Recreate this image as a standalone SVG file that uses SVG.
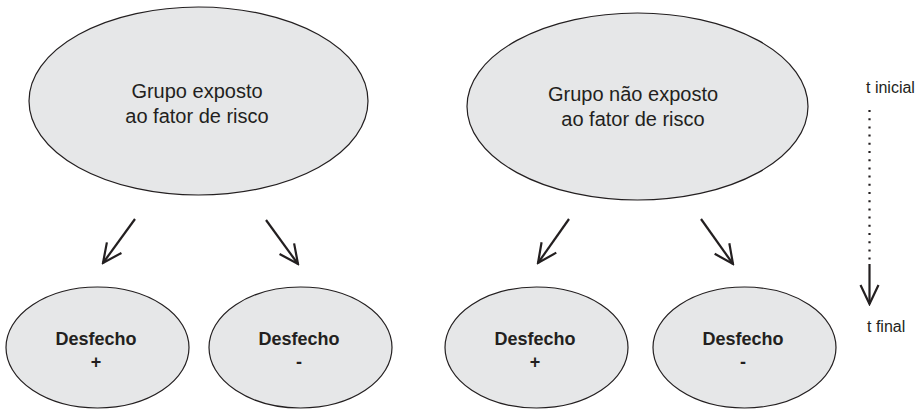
<svg xmlns="http://www.w3.org/2000/svg" width="920" height="411" viewBox="0 0 920 411">
<defs>
<style>
.node ellipse{fill:#e6e7e8;stroke:#231f20;stroke-width:1.2}
.big{font-family:"Liberation Sans",Arial,sans-serif;font-size:20px;fill:#231f20;text-anchor:middle}
.out{font-family:"Liberation Sans",Arial,sans-serif;font-size:18px;font-weight:bold;fill:#231f20;text-anchor:middle}
.lbl{font-family:"Liberation Sans",Arial,sans-serif;font-size:16px;fill:#231f20}
.conn line{stroke:#231f20;stroke-width:2.2;fill:none}
</style>
<marker id="ah" markerUnits="userSpaceOnUse" viewBox="-22 -12 24 24" refX="0" refY="0" markerWidth="24" markerHeight="24" orient="auto">
<path d="M-19,-9 L0,0 L-19,9" fill="none" stroke="#231f20" stroke-width="2.2" stroke-linejoin="miter"/>
</marker>
</defs>
<rect width="920" height="411" fill="#ffffff"/>
<g id="grupo-exposto" class="node">
<ellipse cx="198.5" cy="101" rx="169.5" ry="94"/>
<text class="big" x="197" y="98">Grupo exposto</text>
<text class="big" x="197" y="123">ao fator de risco</text>
</g>
<g id="grupo-nao-exposto" class="node">
<ellipse cx="637.5" cy="106.5" rx="170.5" ry="93.5"/>
<text class="big" x="633" y="101">Grupo não exposto</text>
<text class="big" x="633" y="126">ao fator de risco</text>
</g>
<g id="desfecho-pos-1" class="node">
<ellipse cx="97.5" cy="347.5" rx="91.5" ry="60.5"/>
<text class="out" x="96" y="345">Desfecho</text>
<text class="out" x="96" y="368">+</text>
</g>
<g id="desfecho-neg-1" class="node">
<ellipse cx="300.5" cy="347.5" rx="91.5" ry="60.5"/>
<text class="out" x="299" y="345">Desfecho</text>
<text class="out" x="299" y="368">-</text>
</g>
<g id="desfecho-pos-2" class="node">
<ellipse cx="536.5" cy="347.5" rx="91.5" ry="60.5"/>
<text class="out" x="535" y="345">Desfecho</text>
<text class="out" x="535" y="368">+</text>
</g>
<g id="desfecho-neg-2" class="node">
<ellipse cx="744.5" cy="347.5" rx="91.5" ry="60.5"/>
<text class="out" x="743" y="345">Desfecho</text>
<text class="out" x="743" y="368">-</text>
</g>
<g id="connectors" class="conn">
<line x1="135" y1="219" x2="103" y2="263" marker-end="url(#ah)"/>
<line x1="266" y1="220" x2="298" y2="264" marker-end="url(#ah)"/>
<line x1="569" y1="219" x2="538" y2="263" marker-end="url(#ah)"/>
<line x1="701" y1="219" x2="733" y2="264" marker-end="url(#ah)"/>
</g>
<g id="tempo">
<text class="lbl" x="866" y="93">t inicial</text>
<line x1="869.5" y1="110" x2="869.5" y2="260" stroke="#231f20" stroke-width="2.2" stroke-dasharray="2 6.2"/>
<line x1="869.5" y1="264" x2="869.5" y2="304" stroke="#231f20" stroke-width="2.2" marker-end="url(#ah)"/>
<text class="lbl" x="867" y="332">t final</text>
</g>
</svg>
